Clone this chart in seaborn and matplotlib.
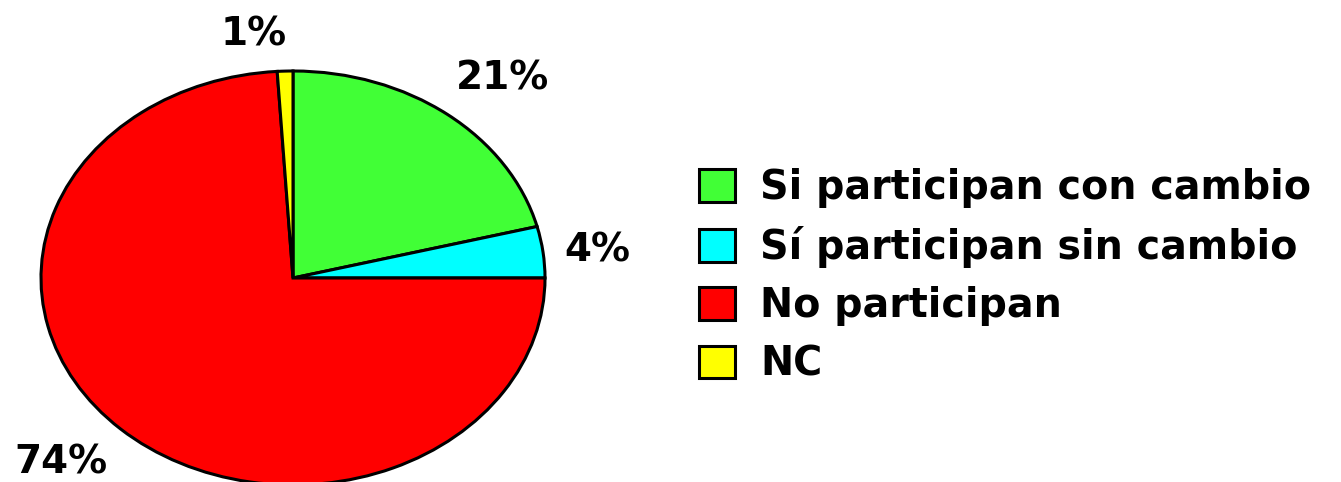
import matplotlib
matplotlib.use("Agg")
import matplotlib.pyplot as plt
import seaborn as sns

categories = ["Si participan con cambio", "Sí participan sin cambio", "No participan", "NC"]
values = [21, 4, 74, 1]
colors = ["#41ff36", "#00ffff", "#ff0000", "#ffff00"]

sns.set_theme(style="white")
plt.rcParams["font.family"] = ["DejaVu Sans"]
plt.rcParams["text.color"] = "black"

W, H = 1341, 482
fig = plt.figure(figsize=(W / 100, H / 100), dpi=100)

# pie is an ellipse: centre (293, 278) px, radii 252 x 207 px
cx, cy, rx, ry = 293, H - 278, 252, 207
a, b = 1.1, 1.2
ax = fig.add_axes([(cx - a * rx) / W, (cy - b * ry) / H, 2 * a * rx / W, 2 * b * ry / H])

wedges, texts, autotexts = ax.pie(
    values, colors=colors, startangle=90, counterclock=False,
    autopct="%.0f%%", pctdistance=1.24,
    wedgeprops=dict(edgecolor="black", linewidth=2.2),
    textprops=dict(fontsize=28, fontweight="bold", color="black"),
)
ax.set_aspect("auto")
ax.set_xlim(-a, a)
ax.set_ylim(-b, b)
ax.axis("off")

# small nudges of the percentage labels (in pixels) to match the original layout
nudges = [(18, -3), (-6, -5), (-18, 3), (-30, -13)]
for t, (dx, dy) in zip(autotexts, nudges):
    x, y = t.get_position()
    t.set_position((x + dx / rx, y + dy / ry))

fig.legend(
    wedges, categories, loc="upper left",
    bbox_to_anchor=(699 / W, 1 - 168 / H), bbox_transform=fig.transFigure,
    frameon=False, borderpad=0, borderaxespad=0,
    handlelength=0.92, handleheight=0.9, handletextpad=0.62, labelspacing=0.46,
    prop=dict(size=28.5, weight="bold"), labelcolor="black",
)

fig.savefig("out.png", dpi=100)
